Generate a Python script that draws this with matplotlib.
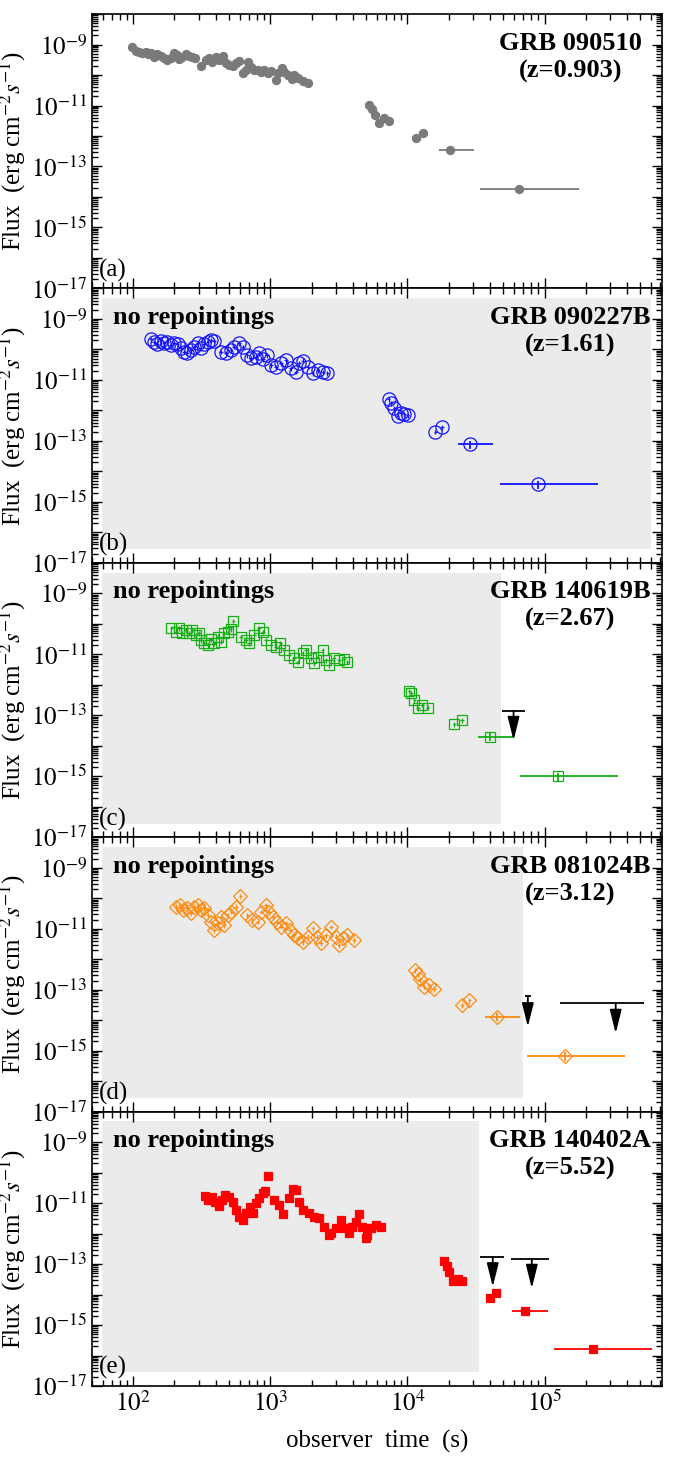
import numpy as np
import matplotlib.pyplot as plt
from matplotlib.ticker import FixedLocator, LogLocator, FuncFormatter, NullFormatter

plt.rcParams['font.family'] = ['Liberation Serif', 'DejaVu Serif']
plt.rcParams['mathtext.fontset'] = 'stix'

# ---------------- data ----------------
# (a) GRB 090510
t_a = [99, 105, 111, 117, 124, 129, 136, 142, 150, 159, 168, 178, 188, 199, 208, 217, 229,
       243, 256, 271, 284, 315, 340, 359, 379, 401, 424, 449, 475, 502, 531, 562, 594, 628,
       665, 691, 723, 764, 808, 855, 904, 955, 1012, 1100, 1131, 1209, 1265, 1338, 1430,
       1497, 1601, 1721, 1872, 5280, 5520, 5840, 6250, 6790, 7300, 11570, 12940]
f_a = [8.1e-10, 6.3e-10, 5.8e-10, 5.1e-10, 5.8e-10, 4.9e-10, 5.1e-10, 4.0e-10, 4.9e-10,
       4.2e-10, 3.5e-10, 3.1e-10, 3.5e-10, 5.4e-10, 4.5e-10, 3.3e-10, 4.0e-10, 4.9e-10,
       4.2e-10, 3.8e-10, 3.5e-10, 2.0e-10, 3.1e-10, 3.5e-10, 2.7e-10, 3.8e-10, 3.1e-10,
       4.3e-10, 2.4e-10, 2.1e-10, 2.0e-10, 2.4e-10, 2.9e-10, 1.14e-10, 1.5e-10, 2.7e-10,
       1.9e-10, 1.5e-10, 1.46e-10, 1.28e-10, 1.5e-10, 1.13e-10, 1.38e-10, 6.8e-11, 1.13e-10,
       1.66e-10, 1.28e-10, 1.0e-10, 7.2e-11, 1.0e-10, 7.8e-11, 6.5e-11, 5.3e-11, 1.03e-11,
       7.5e-12, 4.9e-12, 2.7e-12, 3.8e-12, 3.2e-12, 8.8e-13, 1.28e-12]
bin_t_a = [20600, 64900]
bin_lo_a = [16900, 34100]
bin_hi_a = [30800, 178000]
bin_f_a = [3.5e-13, 1.78e-14]

# (b) GRB 090227B
t_b = [135, 142, 150, 159, 168, 178, 188, 199, 211, 223, 236, 249, 264, 279, 295, 312, 330,
       349, 369, 390, 437, 474, 515, 545, 594, 628, 681, 721, 783, 832, 882, 946, 1013, 1100,
       1196, 1300, 1413, 1537, 1627, 1724, 1872, 2035, 2212, 2405, 2614,
       7300, 7600, 8040, 8500, 9000, 9510, 10050, 16010, 17920]
f_b = [2.14e-10, 1.79e-10, 1.50e-10, 1.93e-10, 1.58e-10, 1.79e-10, 1.39e-10, 1.66e-10,
       1.50e-10, 1.08e-10, 8.4e-11, 7.4e-11, 9.5e-11, 1.22e-10, 1.58e-10, 1.08e-10, 1.50e-10,
       1.79e-10, 2.03e-10, 1.93e-10, 8.4e-11, 7.4e-11, 9.5e-11, 1.22e-10, 1.58e-10, 1.22e-10,
       6.5e-11, 5.1e-11, 5.8e-11, 7.4e-11, 4.7e-11, 6.5e-11, 3.1e-11, 2.7e-11, 3.5e-11,
       4.5e-11, 2.4e-11, 1.85e-11, 3.5e-11, 4.3e-11, 2.7e-11, 1.64e-11, 2.1e-11, 1.85e-11,
       1.64e-11, 2.3e-12, 1.71e-12, 1.17e-12, 6.5e-13, 8.0e-13, 7.6e-13, 6.9e-13, 2.0e-13,
       2.8e-13]
bin_t_b = [28360, 89300]
bin_lo_b = [23300, 46950]
bin_hi_b = [41940, 245000]
bin_f_b = [7.9e-14, 3.85e-15]

# (c) GRB 140619B
t_c = [190, 205, 217, 229, 243, 256, 271, 287, 303, 315, 330, 349, 369, 390, 413, 437, 461,
       488, 515, 539, 611, 664, 703, 764, 832, 882, 933, 1013, 1100, 1185, 1265, 1375, 1495,
       1582, 1721, 1822, 1982, 2093, 2213, 2406, 2545, 2691, 2925, 3180, 3457, 3655,
       10340, 10640, 11250, 11900, 12800, 14060, 22030, 25060]
f_c = [7.1e-11, 5.5e-11, 7.1e-11, 5.1e-11, 6.3e-11, 4.9e-11, 6.3e-11, 4.3e-11, 4.9e-11,
       2.9e-11, 2.4e-11, 2.0e-11, 3.1e-11, 2.3e-11, 3.8e-11, 2.6e-11, 4.9e-11, 5.5e-11,
       6.6e-11, 1.26e-10, 3.6e-11, 2.9e-11, 2.3e-11, 4.3e-11, 7.1e-11, 5.5e-11, 2.9e-11,
       2.0e-11, 1.77e-11, 2.3e-11, 1.38e-11, 9.5e-12, 7.4e-12, 5.7e-12, 1.08e-11, 1.38e-11,
       7.4e-12, 5.1e-12, 8.3e-12, 1.38e-11, 6.5e-12, 4.4e-12, 7.4e-12, 6.5e-12, 6.8e-12,
       5.7e-12, 6.4e-13, 5.2e-13, 3.2e-13, 1.7e-13, 2.2e-13, 1.8e-13, 5.0e-14, 7.0e-14]
bin_t_c = [40150, 125000]
bin_lo_c = [32600, 65700]
bin_hi_c = [59400, 343000]
bin_f_c = [1.98e-14, 1.02e-15]
ul_t_c = [59400]
ul_lo_c = [48800]
ul_hi_c = [71400]
ul_f_c = [1.4e-13]
ul_tip_c = [1.5e-14]

# (d) GRB 081024B
t_d = [205, 220, 233, 247, 264, 279, 295, 312, 330, 349, 369, 390, 417, 437, 461, 488, 521,
       562, 606, 681, 741, 808, 855, 933, 986, 1043, 1122, 1196, 1300, 1396, 1495, 1601,
       1721, 1872, 2035, 2188, 2340, 2545, 2767, 3008, 3181, 3416, 3655, 4090,
       11430, 11880, 12380, 13310, 14480, 15750, 25060, 28350]
f_d = [5.3e-11, 6.0e-11, 4.1e-11, 4.7e-11, 3.2e-11, 5.3e-11, 6.0e-11, 4.1e-11, 4.7e-11,
       2.8e-11, 1.69e-11, 9.0e-12, 1.5e-11, 2.5e-11, 1.32e-11, 2.8e-11, 3.6e-11, 5.3e-11,
       1.18e-10, 2.8e-11, 1.92e-11, 1.69e-11, 3.6e-11, 6.0e-11, 3.6e-11, 2.5e-11, 1.69e-11,
       1.16e-11, 1.5e-11, 9.0e-12, 6.2e-12, 4.8e-12, 3.7e-12, 5.5e-12, 1.03e-11, 5.5e-12,
       3.3e-12, 6.2e-12, 1.16e-11, 5.5e-12, 2.9e-12, 4.8e-12, 6.2e-12, 4.2e-12,
       4.4e-13, 3.3e-13, 2.2e-13, 1.26e-13, 1.41e-13, 1.02e-13, 3.1e-14, 4.6e-14]
bin_t_d = [44900, 142000]
bin_lo_d = [36500, 74300]
bin_hi_d = [66500, 388000]
bin_f_d = [1.30e-14, 6.7e-16]
ul_t_d = [75500, 330000]
ul_lo_d = [71400, 130200]
ul_hi_d = [80000, 528000]
ul_f_d = [6.3e-14, 3.7e-14]
ul_tip_d = [6.1e-15, 3.7e-15]

# (e) GRB 140402A
t_e = [336, 354, 375, 397, 420, 443, 470, 502, 531, 562, 594, 628, 665, 710, 743, 786, 832,
       880, 917, 958, 1070, 1165, 1245, 1375, 1470, 1537, 1627, 1740, 1925, 2093, 2276, 2475,
       2690, 2767, 3008, 3272, 3457, 3760, 3976, 4204, 4445, 4700, 4969, 5104, 5397, 5870,
       6383, 18620, 19370, 20000, 21400, 23300, 25060, 39700, 44400]
f_e = [1.71e-11, 1.26e-11, 1.62e-11, 1.11e-11, 8.0e-12, 1.26e-11, 1.84e-11, 1.62e-11,
       1.11e-11, 5.9e-12, 3.6e-12, 2.8e-12, 4.6e-12, 7.6e-12, 4.6e-12, 9.8e-12, 1.43e-11,
       2.1e-11, 2.5e-11, 7.7e-11, 1.26e-11, 8.6e-12, 4.4e-12, 1.43e-11, 3.0e-11, 2.7e-11,
       1.11e-11, 5.9e-12, 4.6e-12, 3.6e-12, 3.2e-12, 1.68e-12, 9.0e-13, 1.02e-12, 1.49e-12,
       2.8e-12, 1.49e-12, 1.02e-12, 1.68e-12, 2.4e-12, 4.4e-12, 1.68e-12, 7.0e-13, 9.0e-13,
       1.49e-12, 1.91e-12, 1.60e-12, 1.26e-13, 8.8e-14, 5.4e-14, 2.8e-14, 3.2e-14, 2.8e-14,
       7.5e-15, 1.10e-14]
bin_t_e = [71400, 225000]
bin_lo_e = [57900, 118000]
bin_hi_e = [105700, 611000]
bin_f_e = [2.95e-15, 1.6e-16]
ul_t_e = [41900, 80700]
ul_lo_e = [33560, 56500]
ul_hi_e = [51000, 107400]
ul_f_e = [1.73e-13, 1.43e-13]
ul_tip_e = [1.8e-14, 1.6e-14]

names = ['GRB 090510\n(z=0.903)', 'GRB 090227B\n(z=1.61)', 'GRB 140619B\n(z=2.67)',
         'GRB 081024B\n(z=3.12)', 'GRB 140402A\n(z=5.52)']
letters = ['(a)', '(b)', '(c)', '(d)', '(e)']
# end of "no repointings" shaded zone (observer time, s); None = no zone
shade_end = [None, 6.0e5, 4.85e4, 7.0e4, 3.35e4]

panels = [
    dict(t=t_a, f=f_a, bt=bin_t_a, blo=bin_lo_a, bhi=bin_hi_a, bf=bin_f_a,
         color='#7a7a7a', marker='o', ms=5.8, mfc='#7a7a7a', err=False),
    dict(t=t_b, f=f_b, bt=bin_t_b, blo=bin_lo_b, bhi=bin_hi_b, bf=bin_f_b,
         color='#1414ff', marker='o', ms=9.5, mfc='none', err=True),
    dict(t=t_c, f=f_c, bt=bin_t_c, blo=bin_lo_c, bhi=bin_hi_c, bf=bin_f_c,
         color='#12b012', marker='s', ms=7.5, mfc='none', err=True,
         ul=(ul_t_c, ul_lo_c, ul_hi_c, ul_f_c, ul_tip_c)),
    dict(t=t_d, f=f_d, bt=bin_t_d, blo=bin_lo_d, bhi=bin_hi_d, bf=bin_f_d,
         color='#ff8a10', marker='D', ms=7.3, mfc='none', err=True,
         ul=(ul_t_d, ul_lo_d, ul_hi_d, ul_f_d, ul_tip_d)),
    dict(t=t_e, f=f_e, bt=bin_t_e, blo=bin_lo_e, bhi=bin_hi_e, bf=bin_f_e,
         color='#ff0000', marker='s', ms=5.2, mfc='#ff0000', err=False,
         ul=(ul_t_e, ul_lo_e, ul_hi_e, ul_f_e, ul_tip_e)),
]

fig, axes = plt.subplots(5, 1, sharex=True, figsize=(6.75, 14.63), dpi=100)
fig.subplots_adjust(left=0.136, right=0.981, top=0.9904, bottom=0.0526, hspace=0)


def ylab(v, pos):
    e = int(round(np.log10(v)))
    return r'$10^{%d}$' % e if e % 2 else ''


for i, (ax, p) in enumerate(zip(axes, panels)):
    ax.set_xscale('log')
    ax.set_yscale('log')
    ax.set_xlim(50, 7.2e5)
    ax.set_ylim(1e-17, 1e-8)

    if shade_end[i]:
        ax.fill_between([59, shade_end[i]], 2.8e-17, 4.8e-9, color='#ebebeb', lw=0, zorder=0)

    t = np.array(p['t'], float)
    f = np.array(p['f'], float)
    kw = dict(fmt=p['marker'], color=p['color'], ms=p['ms'], mfc=p['mfc'],
              mec=p['color'], mew=0.9, elinewidth=0.9, capsize=0, zorder=3)
    if p['err']:
        ax.errorbar(t, f, xerr=t * 0.03, yerr=f * 0.18, **kw)
    else:
        ax.errorbar(t, f, **kw)

    bt = np.array(p['bt'], float)
    bf = np.array(p['bf'], float)
    xerr = [bt - np.array(p['blo']), np.array(p['bhi']) - bt]
    ax.errorbar(bt, bf, xerr=xerr, yerr=bf * 0.3, fmt=p['marker'], color=p['color'],
                ms=p['ms'], mfc=p['mfc'], mec=p['color'], mew=0.9, elinewidth=1.3,
                capsize=0, zorder=3)

    if 'ul' in p:
        ut, ulo, uhi, uf, utip = p['ul']
        ax.hlines(uf, ulo, uhi, color='k', lw=1.3, zorder=4)
        for x, y0, y1 in zip(ut, uf, utip):
            ax.annotate('', xy=(x, y1), xytext=(x, y0),
                        arrowprops=dict(arrowstyle='-|>,head_length=1.2,head_width=0.3',
                                        color='k', lw=1.3, mutation_scale=12,
                                        shrinkA=0, shrinkB=0), zorder=4)

    ax.text(0.839, 0.894, names[i].split('\n')[0], transform=ax.transAxes, ha='center',
            va='center', fontsize=19, fontweight='bold')
    ax.text(0.839, 0.792, names[i].split('\n')[1], transform=ax.transAxes, ha='center',
            va='center', fontsize=19, fontweight='bold')
    if shade_end[i]:
        ax.text(0.038, 0.894, 'no repointings', transform=ax.transAxes, ha='left',
                va='center', fontsize=19, fontweight='bold')
    ax.text(0.012, 0.066, letters[i], transform=ax.transAxes, ha='left', va='center',
            fontsize=18)

    ax.yaxis.set_major_locator(FixedLocator(10.0 ** np.arange(-17, -7)))
    ax.yaxis.set_major_formatter(FuncFormatter(ylab))
    ax.yaxis.set_minor_locator(LogLocator(base=10, subs=np.arange(2, 10), numticks=100))
    ax.yaxis.set_minor_formatter(NullFormatter())
    ax.xaxis.set_major_locator(FixedLocator([1e2, 1e3, 1e4, 1e5]))
    ax.xaxis.set_major_formatter(FuncFormatter(lambda v, pos: r'$10^{%d}$' % round(np.log10(v))))
    ax.xaxis.set_minor_locator(LogLocator(base=10, subs=np.arange(2, 10), numticks=100))
    ax.xaxis.set_minor_formatter(NullFormatter())
    ax.tick_params(which='both', direction='in', top=True, right=True, width=1.0,
                   labelsize=18)
    ax.tick_params(which='major', length=7.5)
    ax.tick_params(which='minor', length=4)
    for s in ax.spines.values():
        s.set_linewidth(1.2)
    ax.set_ylabel(r'Flux  (erg cm$^{-2}$$s^{-1}$)', fontsize=18, labelpad=2)

axes[-1].set_xlabel('observer  time  (s)', fontsize=18, labelpad=10)

plt.savefig('out.png', dpi=100)
